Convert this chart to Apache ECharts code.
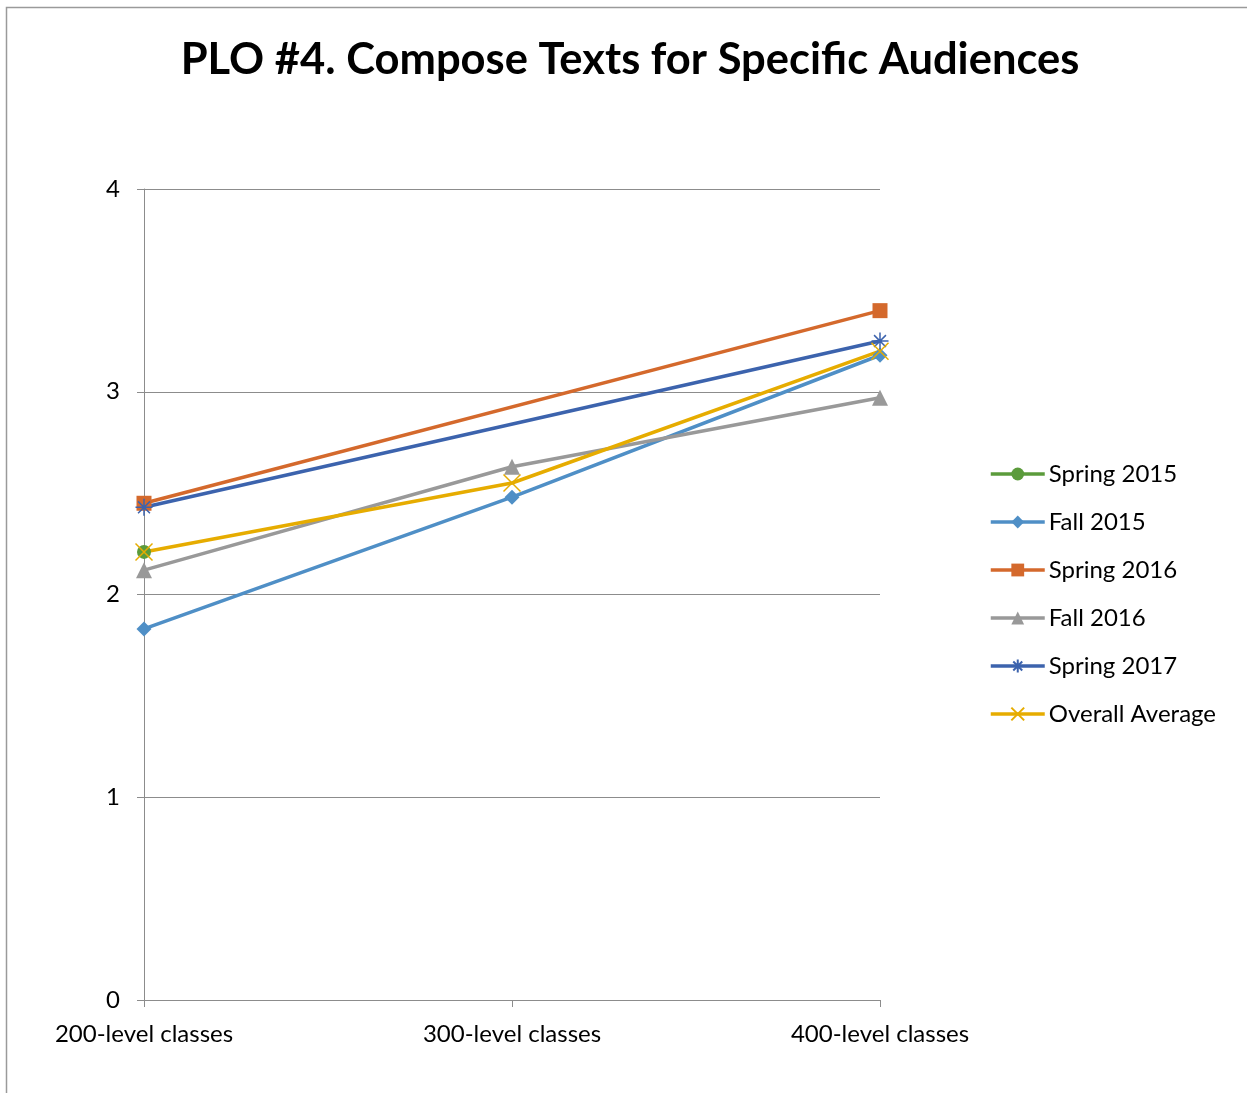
<!DOCTYPE html>
<html><head><meta charset="utf-8">
<script src="https://cdn.jsdelivr.net/npm/echarts@6/dist/echarts.min.js"></script>
<style>html,body{margin:0;padding:0;background:#fff}#c{width:1247px;height:1093px}</style>
</head><body><div id="c"></div>
<script>
const categories = ['200-level classes', '300-level classes', '400-level classes'];
const spring2015 = [2.21, null, null];
const fall2015 = [1.83, 2.48, 3.18];
const spring2016 = [2.45, null, 3.40];
const fall2016 = [2.12, 2.63, 2.97];
const spring2017 = [2.43, null, 3.25];
const overallAverage = [2.21, 2.55, 3.20];
const yTicks = [0, 1, 2, 3, 4];

const font = 'Lato, "Open Sans", sans-serif';
function ser(name, data, color, symbol, size, extra) {
  return Object.assign({
    name, type: 'line', data, connectNulls: true, symbol, symbolSize: size,
    lineStyle: { color, width: 3.5 }, itemStyle: { color },
    z: 3
  }, extra || {});
}
const chart = echarts.init(document.getElementById('c'), null, { renderer: 'canvas' });
chart.setOption({
  animation: false,
  title: {
    text: 'PLO #4. Compose Texts for Specific Audiences',
    left: 625, textAlign: 'center', top: 33,
    textStyle: { fontFamily: font, fontWeight: 'bold', fontSize: 43.5, color: '#000' }
  },
  graphic: [{
    type: 'rect', shape: { x: 6.5, y: 7.5, width: 1300, height: 1200 },
    style: { fill: 'none', stroke: '#9a9a9a', lineWidth: 1.5 }, silent: true
  }],
  legend: {
    orient: 'vertical', left: 984, top: 457, itemGap: 24,
    itemWidth: 54, itemHeight: 16,
    lineStyle: { width: 3.5 },
    textStyle: { fontFamily: font, fontSize: 24, color: '#000', padding: [0, 0, 0, -1] },
    data: ['Spring 2015', 'Fall 2015', 'Spring 2016', 'Fall 2016', 'Spring 2017', 'Overall Average']
  },
  grid: { left: 144, right: 367, top: 189, bottom: 93, containLabel: false },
  xAxis: {
    type: 'category', data: categories, boundaryGap: false,
    axisLine: { lineStyle: { color: '#8c8c8c', width: 1 } },
    axisTick: { show: true, length: 7, lineStyle: { color: '#8c8c8c' }, alignWithLabel: true },
    axisLabel: { fontFamily: font, fontSize: 24, color: '#000', margin: 22 },
    splitLine: { show: false }
  },
  yAxis: {
    type: 'value', min: 0, max: 4, interval: 1,
    axisLine: { show: true, lineStyle: { color: '#8c8c8c', width: 1 } },
    axisTick: { show: true, length: 7, lineStyle: { color: '#8c8c8c' } },
    axisLabel: { fontFamily: font, fontSize: 24, color: '#000', margin: 24,
      formatter: v => yTicks.includes(v) ? String(v) : '' },
    splitLine: { lineStyle: { color: '#8c8c8c', width: 1 } }
  },
  series: [
    ser('Spring 2015', spring2015, '#5b9b3b', 'circle', 14),
    ser('Fall 2015', fall2015, '#4f8fc6', 'diamond', 15),
    ser('Spring 2016', spring2016, '#d4692c', 'rect', 15),
    ser('Fall 2016', fall2016, '#999999', 'triangle', 16),
    ser('Spring 2017', spring2017, '#3c63ad', 'path://M-1,0L1,0M0,-1L0,1M-0.7,-0.7L0.7,0.7M-0.7,0.7L0.7,-0.7', 17,
      { itemStyle: { color: 'none', borderColor: '#3c63ad', borderWidth: 1.5 } }),
    ser('Overall Average', overallAverage, '#e6ac00', 'path://M-0.7,-0.7L0.7,0.7M-0.7,0.7L0.7,-0.7', 17,
      { itemStyle: { color: 'none', borderColor: '#e6ac00', borderWidth: 1.5 } })
  ]
});
</script></body></html>
